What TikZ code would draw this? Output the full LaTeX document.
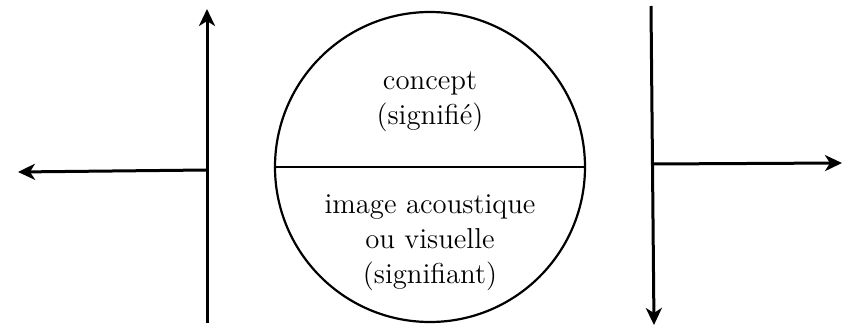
\documentclass[tikz,border=0pt]{standalone}
\usepackage{tikz}
\usetikzlibrary{shapes.geometric, arrows.meta, positioning}
\tikzstyle{sign} = [circle, draw=black, line width=1.1pt, minimum size=155pt, inner sep=0pt]
\tikzstyle{label} = [align=center, font=\fontsize{14.4}{17.5}\selectfont, inner sep=0pt]
\tikzstyle{arrow} = [line width=1.5pt,->,>={Stealth[length=8.5pt,width=8pt,inset=2.5pt]}]

\begin{document}
\begin{tikzpicture}[x=0.5pt, y=-0.5pt]
\useasboundingbox (0,0) rectangle (843,326);

\node (sign) [sign] at (430,167) {};
\node (signifie) [label] at (430,102) {concept\\(signifié)};
\node (signifiant) [label] at (430,243) {image acoustique\\ou visuelle\\(signifiant)};

\coordinate (lbot) at (207,323);
\coordinate (ltop) at (207,9);
\coordinate (ljoin) at (207,170);
\coordinate (lend) at (18,172);
\coordinate (rtop) at (651,6);
\coordinate (rbot) at (654,325);
\coordinate (rjoin) at (652,164);
\coordinate (rend) at (842,163);

\draw [line width=1.1pt] (sign.west) -- (sign.east);
\draw [arrow] (lbot) -- (ltop);
\draw [arrow] (rtop) -- (rbot);
\draw [arrow] (ljoin) -- (lend);
\draw [arrow] (rjoin) -- (rend);

\end{tikzpicture}
\end{document}
